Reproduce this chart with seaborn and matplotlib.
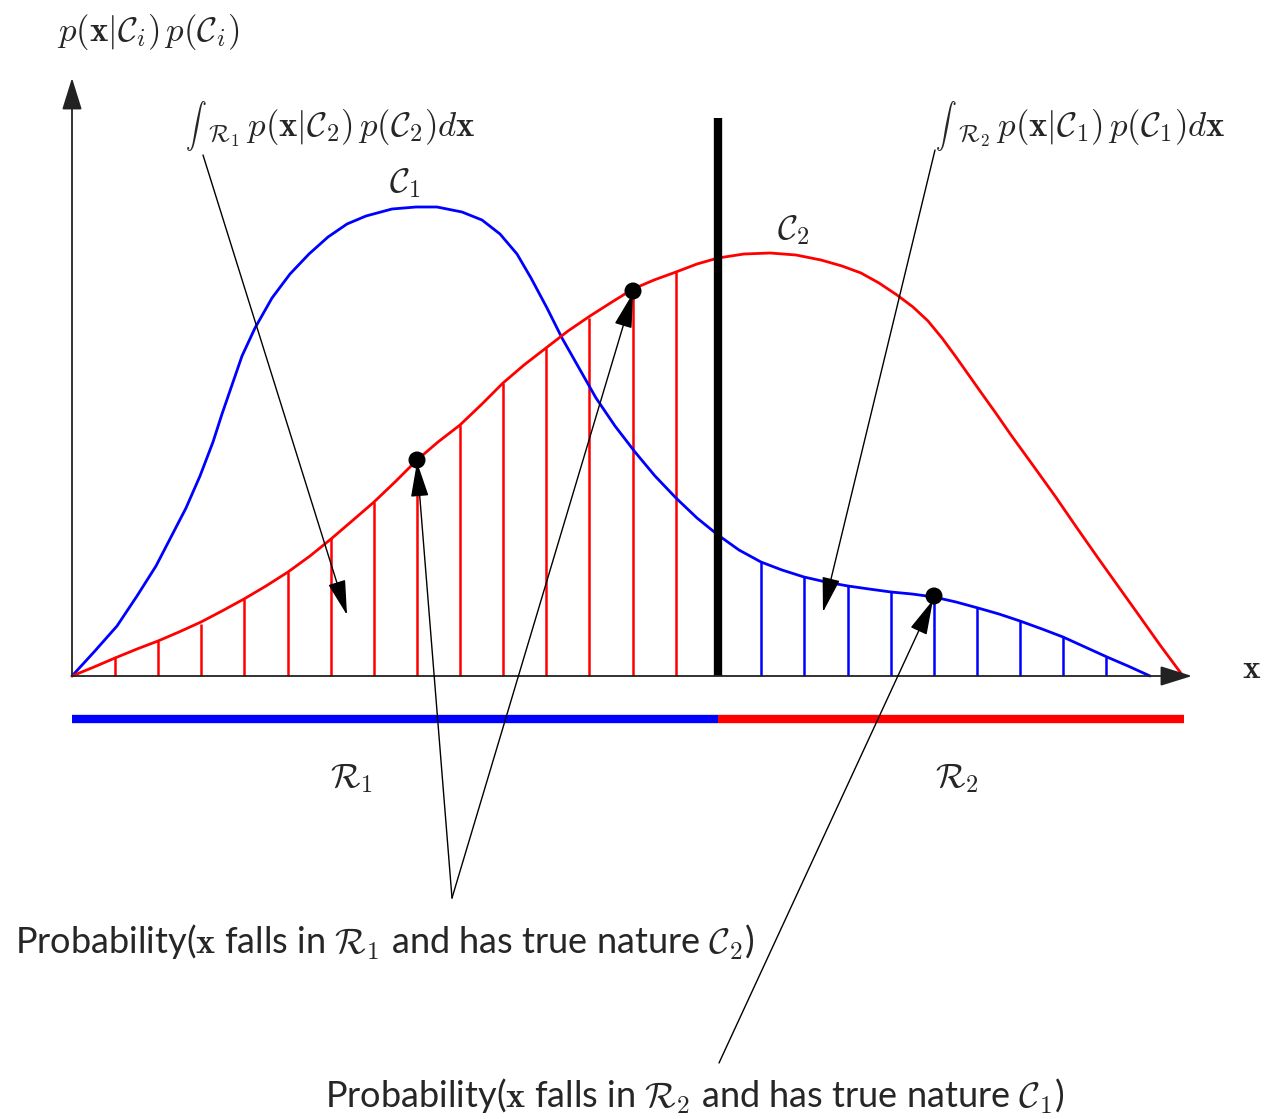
import numpy as np
import pandas as pd
import matplotlib
matplotlib.use("Agg")
import matplotlib.pyplot as plt
import seaborn as sns

# Class-conditional densities weighted by priors, sampled along x
c1_x = [0.00, 0.22, 0.45, 0.65, 0.84, 0.99, 1.14, 1.28, 1.41, 1.50, 1.60, 1.70,
        1.83, 2.00, 2.18, 2.37, 2.56, 2.75, 2.94, 3.20, 3.44, 3.65, 3.90, 4.10,
        4.28, 4.45, 4.59, 4.75, 4.90, 5.07, 5.24, 5.43, 5.63, 5.83, 6.04, 6.25,
        6.46, 6.67, 6.89, 7.10, 7.32, 7.54, 7.76, 7.97, 8.19, 8.40, 8.62, 8.84,
        9.06, 9.27, 9.48, 9.70, 9.91, 10.13, 10.35, 10.56, 10.78]
c1_y = [0.00, 0.24, 0.50, 0.80, 1.10, 1.39, 1.68, 2.00, 2.34, 2.62, 2.91, 3.20,
        3.48, 3.78, 4.02, 4.22, 4.39, 4.52, 4.60, 4.67, 4.69, 4.69, 4.64, 4.56,
        4.42, 4.22, 3.98, 3.68, 3.38, 3.08, 2.78, 2.50, 2.24, 2.00, 1.78, 1.58,
        1.41, 1.26, 1.14, 1.06, 0.99, 0.94, 0.90, 0.87, 0.84, 0.82, 0.79, 0.74,
        0.68, 0.62, 0.55, 0.47, 0.39, 0.29, 0.19, 0.10, 0.00]

c2_x = [0.00, 0.22, 0.43, 0.65, 0.86, 1.07, 1.29, 1.50, 1.72, 1.94, 2.16, 2.38,
        2.59, 2.80, 3.02, 3.24, 3.45, 3.66, 3.88, 4.10, 4.31, 4.52, 4.74, 4.96,
        5.18, 5.40, 5.61, 5.82, 6.04, 6.25, 6.46, 6.72, 6.98, 7.24, 7.49, 7.70,
        7.89, 8.07, 8.25, 8.41, 8.56, 8.70, 8.84, 8.96, 9.08, 9.23, 9.39, 9.60,
        9.83, 10.05, 10.26, 10.46, 10.66, 10.88, 11.11]
c2_y = [0.00, 0.09, 0.18, 0.27, 0.35, 0.44, 0.54, 0.65, 0.77, 0.90, 1.04, 1.20,
        1.37, 1.55, 1.74, 1.95, 2.16, 2.34, 2.51, 2.72, 2.93, 3.11, 3.28, 3.45,
        3.60, 3.74, 3.87, 3.96, 4.04, 4.12, 4.18, 4.22, 4.23, 4.21, 4.16, 4.10,
        4.03, 3.93, 3.81, 3.69, 3.55, 3.38, 3.19, 3.02, 2.85, 2.64, 2.41, 2.12,
        1.80, 1.48, 1.18, 0.90, 0.62, 0.31, 0.00]

# Decision boundary between regions R1 and R2
boundary_x = 6.46
boundary_top = 5.58
x_end = 11.12

# Hatching of the misclassified mass
hatch_r1_x = [0.43, 0.86, 1.29, 1.72, 2.16, 2.59, 3.02, 3.45, 3.88, 4.31, 4.74,
              5.17, 5.61, 6.04]
hatch_r1_y = [0.18, 0.35, 0.52, 0.77, 1.04, 1.38, 1.74, 2.16, 2.51, 2.93, 3.28,
              3.58, 3.88, 4.04]
hatch_r2_x = [6.89, 7.32, 7.76, 8.19, 8.62, 9.05, 9.48, 9.91, 10.34]
hatch_r2_y = [1.14, 0.99, 0.90, 0.84, 0.79, 0.68, 0.55, 0.39, 0.19]

# Highlighted points on the curves
dots_x = [3.45, 5.61, 8.62]
dots_y = [2.16, 3.85, 0.80]

sns.set_theme(style="white")
plt.rcParams["mathtext.fontset"] = "cm"
plt.rcParams["font.family"] = ["DejaVu Sans"]

fig = plt.figure(figsize=(12.69, 11.19), dpi=100)
ax = fig.add_axes([0, 0, 1, 1])
ax.set_xlim(-0.72, 11.97)
ax.set_ylim(-4.43, 6.76)
ax.axis("off")

df1 = pd.DataFrame({"x": c1_x, "y": c1_y})
df2 = pd.DataFrame({"x": c2_x, "y": c2_y})

# hatching
ax.vlines(hatch_r1_x, 0, hatch_r1_y, color="#ff0000", lw=1.8, zorder=2)
ax.vlines(hatch_r2_x, 0, hatch_r2_y, color="#0000ff", lw=1.8, zorder=2)

sns.lineplot(data=df1, x="x", y="y", sort=False, estimator=None,
             color="#0000ff", lw=2.0, ax=ax, zorder=3)
sns.lineplot(data=df2, x="x", y="y", sort=False, estimator=None,
             color="#ff0000", lw=2.0, ax=ax, zorder=3)

# decision boundary
ax.plot([boundary_x, boundary_x], [0, boundary_top], color="black", lw=6,
        solid_capstyle="butt", zorder=4)

# axes with arrowheads
head = dict(arrowstyle="-|>,head_length=0.9,head_width=0.28", color="#222222",
            lw=1.3, shrinkA=0, shrinkB=0, mutation_scale=22)
ax.annotate("", xy=(x_end + 0.08, 0), xytext=(0, 0), arrowprops=head, zorder=5)
ax.annotate("", xy=(0, 5.98), xytext=(0, 0), arrowprops=head, zorder=5)

# region bars
ax.plot([0, boundary_x], [-0.43, -0.43], color="#0000ff", lw=6,
        solid_capstyle="butt")
ax.plot([boundary_x, x_end], [-0.43, -0.43], color="#ff0000", lw=6,
        solid_capstyle="butt")

sns.scatterplot(x=dots_x, y=dots_y, color="black", s=150, edgecolor="none",
                ax=ax, zorder=6, legend=False)

# pointer arrows
ptr = dict(arrowstyle="-|>,head_length=1.1,head_width=0.28", color="black",
           lw=1.0, shrinkA=0, shrinkB=0, mutation_scale=20)
ax.annotate("", xy=(2.75, 0.61), xytext=(1.31, 5.21), arrowprops=ptr, zorder=7)
ax.annotate("", xy=(7.51, 0.64), xytext=(8.63, 5.26), arrowprops=ptr, zorder=7)
ax.annotate("", xy=(3.45, 2.14), xytext=(3.80, -2.22), arrowprops=ptr, zorder=7)
ax.annotate("", xy=(5.61, 3.83), xytext=(3.80, -2.22), arrowprops=ptr, zorder=7)
ax.annotate("", xy=(8.61, 0.76), xytext=(6.47, -3.87), arrowprops=ptr, zorder=7)

# labels
ms = 25
ax.text(0.76, 6.44, r"$p(\mathbf{x}|\mathcal{C}_i)\,p(\mathcal{C}_i)$",
        fontsize=ms, ha="center", va="center")


def integral_label(x, y, body):
    """Text-style integral sign followed by its region subscript and body."""
    sign = ax.text(x, y, r"$\int$", fontsize=15, ha="left", va="center")
    ax.annotate(body, xy=(1.0, 0.5), xycoords=sign, xytext=(0, -2),
                textcoords="offset points", fontsize=ms, ha="left",
                va="center")


integral_label(1.13, 5.50,
               r"${}_{\mathcal{R}_1}\, p(\mathbf{x}|\mathcal{C}_2)\,p(\mathcal{C}_2)d\mathbf{x}$")
integral_label(8.63, 5.50,
               r"${}_{\mathcal{R}_2}\, p(\mathbf{x}|\mathcal{C}_1)\,p(\mathcal{C}_1)d\mathbf{x}$")

ax.text(3.33, 4.93, r"$\mathcal{C}_1$", fontsize=ms, ha="center", va="center")
ax.text(7.21, 4.46, r"$\mathcal{C}_2$", fontsize=ms, ha="center", va="center")
ax.text(11.80, 0.08, r"$\mathbf{x}$", fontsize=24, ha="center", va="center")
ax.text(2.80, -1.02, r"$\mathcal{R}_1$", fontsize=ms, ha="center", va="center")
ax.text(8.85, -1.02, r"$\mathcal{R}_2$", fontsize=ms, ha="center", va="center")

ts = 26
ax.text(3.13, -2.66,
        r"Probability($\mathbf{x}$ falls in $\mathcal{R}_1$ and has true nature $\mathcal{C}_2$)",
        fontsize=ts, ha="center", va="center", family=["Lato", "DejaVu Sans"])
ax.text(6.23, -4.20,
        r"Probability($\mathbf{x}$ falls in $\mathcal{R}_2$ and has true nature $\mathcal{C}_1$)",
        fontsize=ts, ha="center", va="center", family=["Lato", "DejaVu Sans"])

fig.savefig("out.png", dpi=100)
